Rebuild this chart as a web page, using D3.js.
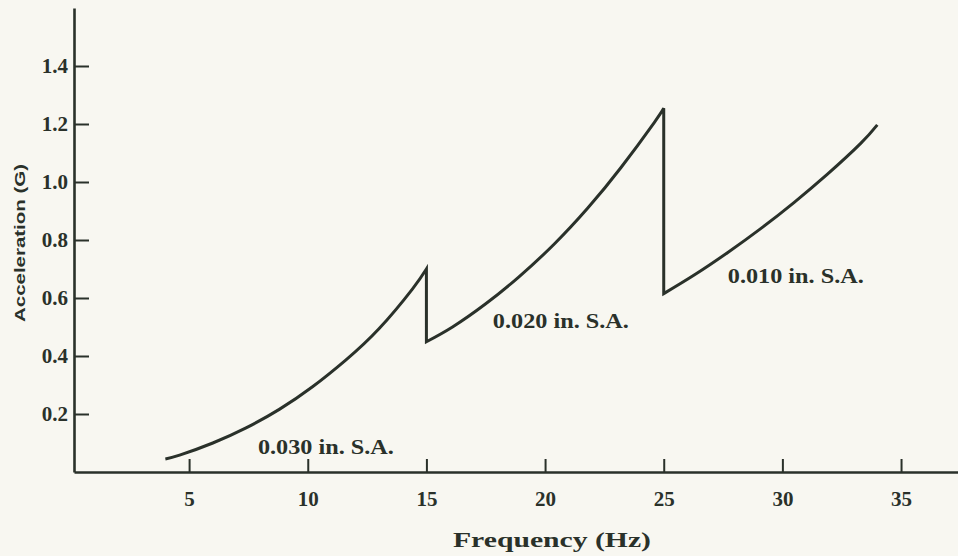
<!DOCTYPE html>
<html>
<head>
<meta charset="utf-8">
<script src="https://cdn.jsdelivr.net/npm/d3@7/dist/d3.min.js"></script>
<style>
  html, body { margin: 0; padding: 0; background: #f8f7f1; }
  svg { display: block; }
</style>
</head>
<body>
<div id="chart"></div>
<script>
// Size of the figure
var width = 958;
var height = 556;

// Values: acceleration (G) against frequency (Hz)
var freq030 = [4, 4.6, 6, 7.4, 8.8, 10.2, 11.6, 13, 14.4, 15];
var accel030 = [0.045, 0.058, 0.100, 0.152, 0.216, 0.294, 0.386, 0.494, 0.63, 0.70];

var freq020 = [15, 16.1, 17.5, 18.9, 20.4, 21.8, 23.2, 24.6, 25];
var accel020 = [0.449, 0.50, 0.58, 0.673, 0.787, 0.91, 1.05, 1.205, 1.254];

var freq010 = [25, 26.3, 27.7, 29.1, 30.5, 31.9, 33.3, 34];
var accel010 = [0.615, 0.68, 0.757, 0.84, 0.93, 1.027, 1.133, 1.197];

var xTicks = [5, 10, 15, 20, 25, 30, 35];
var yTicks = [0.2, 0.4, 0.6, 0.8, 1.0, 1.2, 1.4];

var curveLabels = ["0.030 in. S.A.", "0.020 in. S.A.", "0.010 in. S.A."];
// where each label sits, in chart units (Hz, G)
var labelFreq = [7.9, 17.8, 27.7];
var labelAccel = [0.062, 0.497, 0.652];

var ink = "#2a312a";
var serif = "'Liberation Serif', 'Times New Roman', serif";

// scales
var x = d3.scaleLinear().domain([0.15, 37.4]).range([74, 958]);
var y = d3.scaleLinear().domain([0, 1.6]).range([472, 8]);

var svg = d3.select("#chart")
  .append("svg")
  .attr("width", width)
  .attr("height", height);

svg.append("rect")
  .attr("width", width)
  .attr("height", height)
  .attr("fill", "#f8f7f1");

// x axis, ticks point up into the plot
var xAxis = d3.axisBottom(x)
  .tickValues(xTicks)
  .tickFormat(d3.format("d"))
  .tickSize(-13)
  .tickSizeOuter(0)
  .tickPadding(19);

var gx = svg.append("g")
  .attr("transform", "translate(0," + y(0) + ")")
  .call(xAxis);

// y axis, ticks point right into the plot
var yAxis = d3.axisLeft(y)
  .tickValues(yTicks)
  .tickFormat(d3.format(".1f"))
  .tickSize(-15)
  .tickSizeOuter(0)
  .tickPadding(6);

var gy = svg.append("g")
  .attr("transform", "translate(" + x(0.15) + ",0)")
  .call(yAxis);

[gx, gy].forEach(function(g) {
  g.select(".domain")
    .attr("stroke", ink)
    .attr("stroke-width", 2.6);
  g.selectAll(".tick line")
    .attr("stroke", ink)
    .attr("stroke-width", 2);
  g.selectAll(".tick text")
    .attr("fill", ink)
    .style("font-family", serif)
    .style("font-weight", "bold")
    .style("font-size", "21px");
});

// the curve: three segments joined by vertical drops at 15 and 25 Hz
var line = d3.line()
  .x(function(d) { return x(d[0]); })
  .y(function(d) { return y(d[1]); })
  .curve(d3.curveNatural);

var segments = [
  d3.zip(freq030, accel030),
  d3.zip(freq020, accel020),
  d3.zip(freq010, accel010)
];

var pathString = segments.map(function(seg, i) {
  var p = line(seg);
  return i === 0 ? p : "L" + p.slice(1);
}).join("");

svg.append("path")
  .attr("d", pathString)
  .attr("fill", "none")
  .attr("stroke", ink)
  .attr("stroke-width", 3)
  .attr("stroke-linejoin", "miter");

// curve labels
svg.selectAll(".curve-label")
  .data(curveLabels)
  .enter()
  .append("text")
  .attr("class", "curve-label")
  .attr("x", function(d, i) { return x(labelFreq[i]); })
  .attr("y", function(d, i) { return y(labelAccel[i]); })
  .attr("textLength", 136)
  .attr("lengthAdjust", "spacingAndGlyphs")
  .attr("fill", ink)
  .style("font-family", serif)
  .style("font-weight", "bold")
  .style("font-size", "22px")
  .text(function(d) { return d; });

// axis titles
svg.append("text")
  .attr("x", 552)
  .attr("y", 547)
  .attr("text-anchor", "middle")
  .attr("textLength", 198)
  .attr("lengthAdjust", "spacingAndGlyphs")
  .attr("fill", ink)
  .style("font-family", serif)
  .style("font-weight", "bold")
  .style("font-size", "22px")
  .text("Frequency (Hz)");

svg.append("text")
  .attr("transform", "translate(25,243) rotate(-90)")
  .attr("text-anchor", "middle")
  .attr("textLength", 158)
  .attr("lengthAdjust", "spacingAndGlyphs")
  .attr("fill", ink)
  .style("font-family", "'Liberation Sans', Arial, sans-serif")
  .style("font-weight", "bold")
  .style("font-size", "15px")
  .text("Acceleration (G)");
</script>
</body>
</html>
